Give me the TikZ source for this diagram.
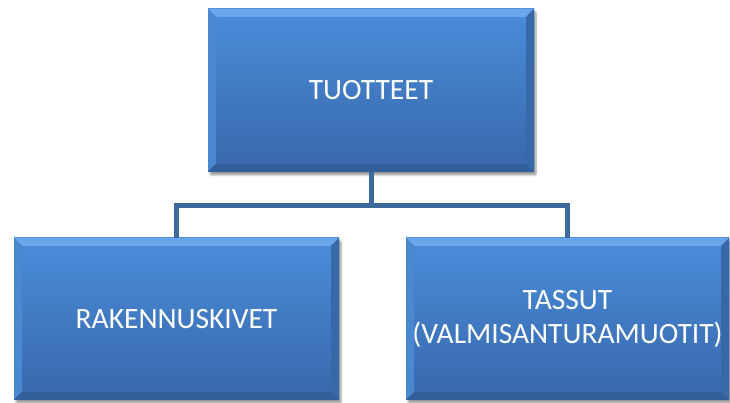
\documentclass[tikz,border=0pt]{standalone}
\usepackage{fontspec}
\setmainfont{Carlito}
\usetikzlibrary{shadows.blur}
\definecolor{faceTop}{HTML}{4A8DDB}
\definecolor{faceBot}{HTML}{3867AA}
\definecolor{bevTop}{HTML}{6AA6EA}
\definecolor{bevLeft}{HTML}{4B88D2}
\definecolor{bevRight}{HTML}{3768A8}
\definecolor{bevBot}{HTML}{325E9A}
\definecolor{linkBlue}{HTML}{3D6A9E}
\newcommand{\bv}{8pt}
\tikzset{
  tile/.style={
    rectangle, inner sep=0pt, text=white, align=center,
    font=\fontsize{29.5}{34}\selectfont,
    top color=faceTop, bottom color=faceBot,
    blur shadow={shadow xshift=2pt, shadow yshift=-3pt, shadow blur steps=6, shadow blur extra rounding=1pt, shadow opacity=40},
    path picture={
      \fill[bevTop] (path picture bounding box.north west) -- (path picture bounding box.north east)
        -- ([xshift=-\bv,yshift=-\bv]path picture bounding box.north east)
        -- ([xshift=\bv,yshift=-\bv]path picture bounding box.north west) -- cycle;
      \fill[bevLeft] (path picture bounding box.north west) -- (path picture bounding box.south west)
        -- ([xshift=\bv,yshift=\bv]path picture bounding box.south west)
        -- ([xshift=\bv,yshift=-\bv]path picture bounding box.north west) -- cycle;
      \fill[bevRight] (path picture bounding box.north east) -- (path picture bounding box.south east)
        -- ([xshift=-\bv,yshift=\bv]path picture bounding box.south east)
        -- ([xshift=-\bv,yshift=-\bv]path picture bounding box.north east) -- cycle;
      \fill[bevBot] (path picture bounding box.south west) -- (path picture bounding box.south east)
        -- ([xshift=-\bv,yshift=\bv]path picture bounding box.south east)
        -- ([xshift=\bv,yshift=\bv]path picture bounding box.south west) -- cycle;
    }
  },
  link/.style={draw=linkBlue, line width=5pt, line join=miter}
}
\begin{document}
\begin{tikzpicture}[x=1pt,y=1pt]
  \useasboundingbox (0,0) rectangle (730,403);
  % tiles
  \node[tile, minimum width=326pt, minimum height=163pt] (top) at (371,312.5) {TUOTTEET};
  \node[tile, minimum width=325pt, minimum height=162pt] (left) at (176.5,84) {RAKENNUSKIVET};
  \node[tile, minimum width=323pt, minimum height=162pt] (right) at (567.5,84) {TASSUT\\(VALMISANTURAMUOTIT)};
  % connectors from the top tile to the two lower tiles
  \draw[link] (top.south) -- ++(0,-33) -| (left.north);
  \draw[link] (top.south) -- ++(0,-33) -| (right.north);
\end{tikzpicture}
\end{document}
